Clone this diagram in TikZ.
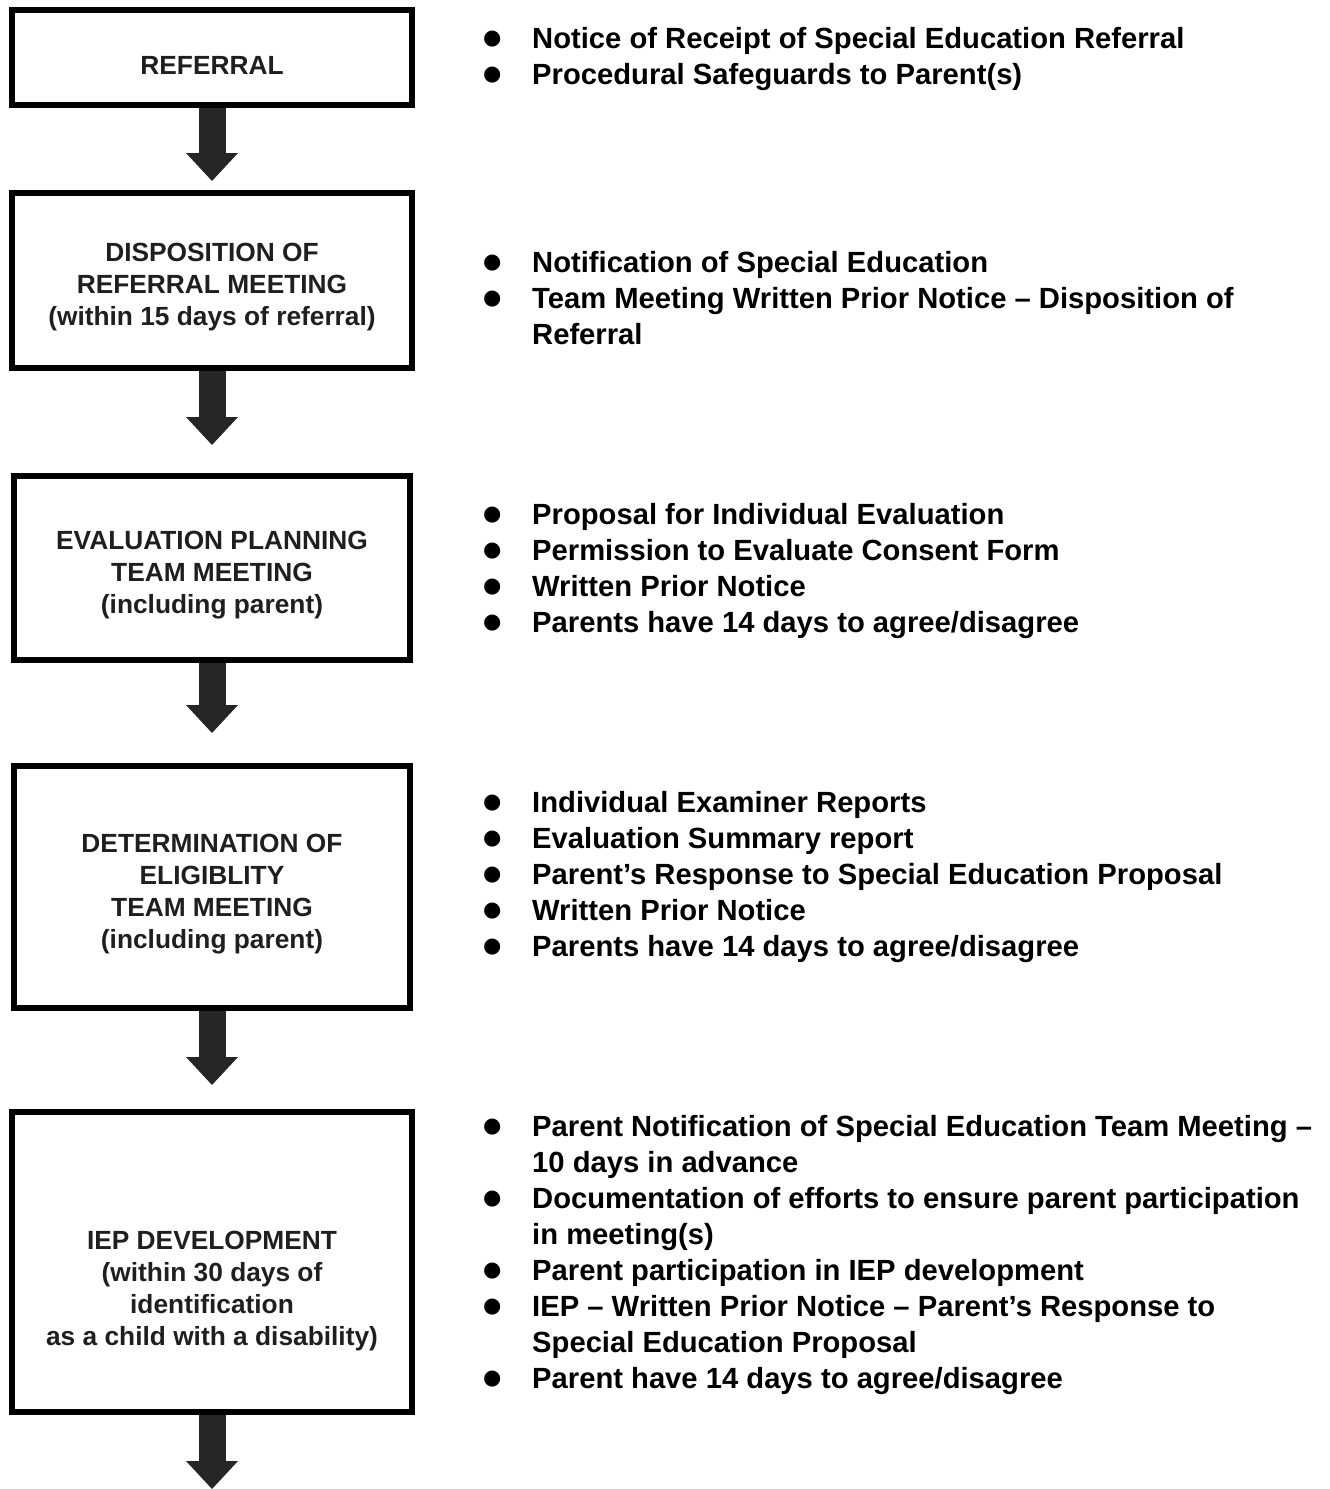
\documentclass[tikz,border=0pt]{standalone}
\usepackage{fontspec}
\setmainfont{Liberation Sans}
\newfontfamily\dotfont{DejaVu Sans}
\usetikzlibrary{arrows.meta}

\newcommand{\blt}{\makebox[52pt][l]{\makebox[24pt]{\raisebox{4pt}{\dotfont\fontsize{21}{21}\selectfont ●}}}}

\begin{document}
\begin{tikzpicture}[x=1pt,y=-1pt]
  \tikzstyle{box}=[draw=black,line width=6pt,minimum width=400pt,inner sep=0pt]
  \tikzstyle{boxtext}=[align=center,inner sep=0pt,text=black!88,font=\fontsize{26.3}{32}\selectfont\bfseries]
  \tikzstyle{items}=[anchor=base west,inner sep=0pt,font=\fontsize{29.2}{36}\selectfont\bfseries]
  \tikzstyle{bigarrow}=[draw=black!85,line width=27pt,-{Triangle[length=28pt,width=52pt,line width=0pt]}]

  \useasboundingbox (0,0) rectangle (1330,1489);

  \node[box,minimum height=95pt] (ref) at (212,57.5) {};
  \node[boxtext] (reft) at (212,65) {REFERRAL};
  \node[box,minimum height=175pt] (disp) at (212,280.5) {};
  \node[boxtext] (dispt) at (212,287) {DISPOSITION OF\\REFERRAL MEETING\\(within 15 days of referral)};
  \node[box,minimum width=396pt,minimum height=184pt] (eval) at (212,568) {};
  \node[boxtext] (evalt) at (212,575) {EVALUATION PLANNING\\TEAM MEETING\\(including parent)};
  \node[box,minimum width=396pt,minimum height=242pt] (elig) at (212,887) {};
  \node[boxtext] (eligt) at (212,894) {DETERMINATION OF\\ELIGIBLITY\\TEAM MEETING\\(including parent)};
  \node[box,minimum height=300pt] (iep) at (212,1262) {};
  \node[boxtext] (iept) at (212,1291) {IEP DEVELOPMENT\\(within 30 days of\\identification\\as a child with a disability)};

  \coordinate (a1) at (212,181);
  \coordinate (a2) at (212,445);
  \coordinate (a3) at (212,733);
  \coordinate (a4) at (212,1085);
  \coordinate (a5) at (212,1489);

  \path (ref) edge[bigarrow] (a1)
        (disp) edge[bigarrow] (a2)
        (eval) edge[bigarrow] (a3)
        (elig) edge[bigarrow] (a4)
        (iep) edge[bigarrow] (a5);

  \node[items] (refl) at (480,48) {\begin{tabular}[t]{@{}l@{}l@{}}
    \blt & Notice of Receipt of Special Education Referral\\
    \blt & Procedural Safeguards to Parent(s)
  \end{tabular}};
  \node[items] (displ) at (480,272) {\begin{tabular}[t]{@{}l@{}l@{}}
    \blt & Notification of Special Education\\
    \blt & Team Meeting Written Prior Notice – Disposition of\\
         & Referral
  \end{tabular}};
  \node[items] (evall) at (480,524) {\begin{tabular}[t]{@{}l@{}l@{}}
    \blt & Proposal for Individual Evaluation\\
    \blt & Permission to Evaluate Consent Form\\
    \blt & Written Prior Notice\\
    \blt & Parents have 14 days to agree/disagree
  \end{tabular}};
  \node[items] (eligl) at (480,812) {\begin{tabular}[t]{@{}l@{}l@{}}
    \blt & Individual Examiner Reports\\
    \blt & Evaluation Summary report\\
    \blt & Parent’s Response to Special Education Proposal\\
    \blt & Written Prior Notice\\
    \blt & Parents have 14 days to agree/disagree
  \end{tabular}};
  \node[items] (iepl) at (480,1136) {\begin{tabular}[t]{@{}l@{}l@{}}
    \blt & Parent Notification of Special Education Team Meeting –\\
         & 10 days in advance\\
    \blt & Documentation of efforts to ensure parent participation\\
         & in meeting(s)\\
    \blt & Parent participation in IEP development\\
    \blt & IEP – Written Prior Notice – Parent’s Response to\\
         & Special Education Proposal\\
    \blt & Parent have 14 days to agree/disagree
  \end{tabular}};
\end{tikzpicture}
\end{document}
